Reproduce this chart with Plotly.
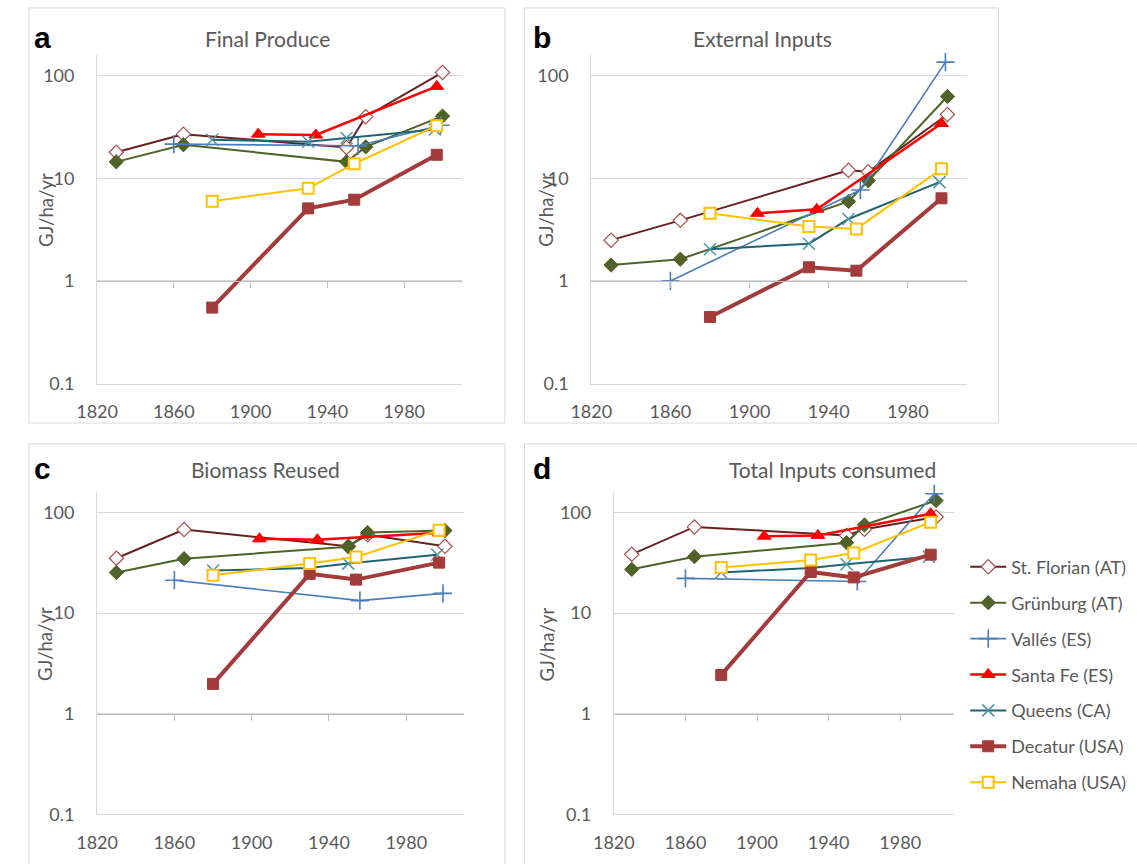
import plotly.graph_objects as go

W, H = 1137, 864

# ---------------- data ----------------
sites = ["St. Florian (AT)", "Grünburg (AT)", "Vallés (ES)", "Santa Fe (ES)",
         "Queens (CA)", "Decatur (USA)", "Nemaha (USA)"]

years_st_florian = [1830, 1865, 1950, 1960, 2000]
years_grunburg = [1830, 1865, 1950, 1960, 2000]
years_valles = [1860, 1956, 1999]
years_santa_fe = [1904, 1934, 1997]
years_queens = [1880, 1930, 1950, 1996]
years_decatur = [1880, 1930, 1954, 1997]
years_nemaha = [1880, 1930, 1954, 1997]

# a: Final Produce (GJ/ha/yr)
fp_st_florian = [18, 27, 20, 40, 108]
fp_grunburg = [14.5, 21.3, 14.5, 20.3, 40.5]
fp_valles = [21.6, 20.8, 33]
fp_santa_fe = [27, 26.5, 79]
fp_queens = [23.8, 22.8, 24.8, 30]
fp_decatur = [0.55, 5.1, 6.2, 17]
fp_nemaha = [6.0, 8.0, 13.9, 32.7]

# b: External Inputs
ei_st_florian = [2.5, 3.9, 12.0, 11.6, 42]
ei_grunburg = [1.43, 1.63, 5.96, 9.5, 63]
ei_valles = [1.0, 7.7, 136]
ei_santa_fe = [4.57, 5.0, 34.3]
ei_queens = [2.04, 2.31, 4.02, 9.2]
ei_decatur = [0.446, 1.36, 1.26, 6.4]
ei_nemaha = [4.57, 3.4, 3.22, 12.4]

# c: Biomass Reused
br_st_florian = [35, 67.5, 46, 60, 46]
br_grunburg = [25.3, 34.7, 45.6, 63, 66]
br_valles = [21.2, 13.3, 15.7]
br_santa_fe = [54.6, 53.5, 62.6]
br_queens = [26.5, 28, 31, 38]
br_decatur = [1.98, 24.5, 21.5, 31.7]
br_nemaha = [23.8, 31, 36, 66.6]

# d: Total Inputs consumed
ti_st_florian = [38.3, 71.7, 59, 68, 90]
ti_grunburg = [27.2, 36.3, 50, 75, 131]
ti_valles = [22.1, 20.6, 153]
ti_santa_fe = [58, 59, 97]
ti_queens = [25.3, 28, 30.5, 36.3]
ti_decatur = [2.43, 25.6, 22.6, 38]
ti_nemaha = [28.3, 33.6, 39.5, 80]

panel_titles = ["Final Produce", "External Inputs", "Biomass Reused", "Total Inputs consumed"]
panel_letters = ["a", "b", "c", "d"]
x_tick_vals = [1820, 1860, 1900, 1940, 1980]
x_tick_text = ["1820", "1860", "1900", "1940", "1980"]
y_tick_vals = [0.1, 1, 10, 100]
y_tick_text = ["0.1", "1", "10", "100"]
y_title = "GJ/ha/yr"

site_years = [years_st_florian, years_grunburg, years_valles, years_santa_fe,
              years_queens, years_decatur, years_nemaha]
panel_values = [
    [fp_st_florian, fp_grunburg, fp_valles, fp_santa_fe, fp_queens, fp_decatur, fp_nemaha],
    [ei_st_florian, ei_grunburg, ei_valles, ei_santa_fe, ei_queens, ei_decatur, ei_nemaha],
    [br_st_florian, br_grunburg, br_valles, br_santa_fe, br_queens, br_decatur, br_nemaha],
    [ti_st_florian, ti_grunburg, ti_valles, ti_santa_fe, ti_queens, ti_decatur, ti_nemaha],
]

# ---------------- styles ----------------
styles = [
    dict(line=dict(color="#6B2020", width=2),
         marker=dict(symbol="diamond", size=11, color="white", line=dict(color="#A5504D", width=1.2))),
    dict(line=dict(color="#4F6228", width=2),
         marker=dict(symbol="diamond", size=11, color="#4F6228", line=dict(color="#4F6228", width=1))),
    dict(line=dict(color="#4A7EBB", width=1.6),
         marker=dict(symbol="cross-thin", size=13, color="#4A7EBB", line=dict(color="#4A7EBB", width=1.6))),
    dict(line=dict(color="#FF0000", width=2.5),
         marker=dict(symbol="triangle-up", size=12, color="#FF0000", line=dict(color="#FF0000", width=1))),
    dict(line=dict(color="#1F6470", width=2),
         marker=dict(symbol="x-thin", size=12, color="#4A96A6", line=dict(color="#4A96A6", width=1.5))),
    dict(line=dict(color="#A23B3A", width=4),
         marker=dict(symbol="square", size=11, color="#A23B3A", line=dict(color="#A23B3A", width=1))),
    dict(line=dict(color="#FFC000", width=2),
         marker=dict(symbol="square", size=11, color="white", line=dict(color="#FFC000", width=2))),
]

FONT = "Lato, 'Open Sans', sans-serif"
GRAY_TXT = "#595959"
GRID = "#D9D9D9"


def px_x(p):
    return p / W


def px_y(p):
    return 1 - p / H


# plot areas in pixels: (left, right, top, bottom)
areas = [
    (77.5, 449, 56, 388),
    (581, 964, 56, 388),
    (77.5, 451.6, 498, 824),
    (604, 950.5, 498, 824),
]
boxes = [(8, 493, 8, 428), (513, 996, 8, 428), (8, 493, 449, 900), (513, 1160, 449, 900)]
title_pos = [(251, 39), (755, 39), (249, 475), (827, 475)]
letter_pos = [(11, 38), (520, 38), (11, 474), (520, 474)]
ytitle_pos = [(25, 213), (534, 212), (25, 652), (536, 652)]

YR = [-1, 2.2]
XR = [1820, 2010]

fig = go.Figure()
layout = dict(
    width=W, height=H, margin=dict(l=0, r=0, t=0, b=0),
    paper_bgcolor="white", plot_bgcolor="white",
    font=dict(family=FONT, color=GRAY_TXT),
    showlegend=True,
    legend=dict(x=px_x(962), y=px_y(555), xanchor="left", yanchor="top",
                font=dict(family=FONT, size=18, color=GRAY_TXT),
                tracegroupgap=9.5, itemwidth=36, bgcolor="rgba(0,0,0,0)"),
)
shapes = []
annotations = []

for i in range(4):
    l, r, t, b = areas[i]
    xa = "xaxis" if i == 0 else f"xaxis{i+1}"
    ya = "yaxis" if i == 0 else f"yaxis{i+1}"
    xid = "x" if i == 0 else f"x{i+1}"
    yid = "y" if i == 0 else f"y{i+1}"
    layout[xa] = dict(domain=[px_x(l), px_x(r)], range=XR, anchor=yid,
                      tickvals=x_tick_vals, ticktext=x_tick_text, ticks="",
                      showgrid=False, zeroline=False, showline=True, linecolor=GRID, linewidth=1,
                      tickfont=dict(family=FONT, size=18, color=GRAY_TXT),
                      ticklabelstandoff=12)
    layout[ya] = dict(domain=[px_y(b), px_y(t)], range=YR, type="log", anchor=xid,
                      tickvals=y_tick_vals, ticktext=y_tick_text, ticks="",
                      showgrid=True, gridcolor=GRID, gridwidth=1, zeroline=False,
                      showline=True, linecolor=GRID, linewidth=1,
                      tickfont=dict(family=FONT, size=18, color=GRAY_TXT),
                      ticklabelstandoff=18)
    # horizontal category axis crossing at 1, with tick marks
    oxa = f"xaxis{i+5}"
    oxid = f"x{i+5}"
    pos_one = px_y(b) + (0 - YR[0]) / (YR[1] - YR[0]) * (px_y(t) - px_y(b))
    layout[oxa] = dict(overlaying=xid, anchor="free", position=pos_one, range=XR,
                       tickvals=x_tick_vals[1:], ticks="outside", ticklen=6,
                       tickcolor="#BFBFBF", tickwidth=1, showticklabels=False,
                       showgrid=False, zeroline=False, showline=True,
                       linecolor="#BFBFBF", linewidth=1)
    fig.add_trace(go.Scatter(x=[None], y=[None], xaxis=oxid, yaxis=yid,
                             showlegend=False, hoverinfo="skip"))

    for s in range(7):
        fig.add_trace(go.Scatter(
            x=site_years[s], y=panel_values[i][s], mode="lines+markers",
            name=sites[s], legendgroup=sites[s], showlegend=(i == 3),
            line=styles[s]["line"], marker=styles[s]["marker"],
            xaxis=xid, yaxis=yid, cliponaxis=False))

    bl, br_, bt, bb = boxes[i]
    shapes.append(dict(type="rect", xref="paper", yref="paper",
                       x0=px_x(bl), x1=px_x(br_), y0=px_y(bb), y1=px_y(bt),
                       line=dict(color=GRID, width=1), fillcolor="rgba(0,0,0,0)", layer="below"))
    tx, ty = title_pos[i]
    annotations.append(dict(text=panel_titles[i], x=px_x(tx), y=px_y(ty), xref="paper", yref="paper",
                            xanchor="center", yanchor="middle", showarrow=False,
                            font=dict(family=FONT, size=21, color=GRAY_TXT)))
    lx, ly = letter_pos[i]
    annotations.append(dict(text="<b>" + panel_letters[i] + "</b>", x=px_x(lx), y=px_y(ly),
                            xref="paper", yref="paper", xanchor="left", yanchor="middle",
                            showarrow=False,
                            font=dict(family="Liberation Sans, Arial, sans-serif", size=30, color="black")))
    ax_, ay_ = ytitle_pos[i]
    annotations.append(dict(text=y_title, x=px_x(ax_), y=px_y(ay_), xref="paper", yref="paper",
                            xanchor="center", yanchor="middle", textangle=-90, showarrow=False,
                            font=dict(family=FONT, size=18.5, color=GRAY_TXT)))

layout["shapes"] = shapes
layout["annotations"] = annotations
fig.update_layout(**layout)
fig.write_html("out.html",
               config={"displayModeBar": False},
               post_script="document.body.style.margin='0';document.body.style.overflow='hidden';")
